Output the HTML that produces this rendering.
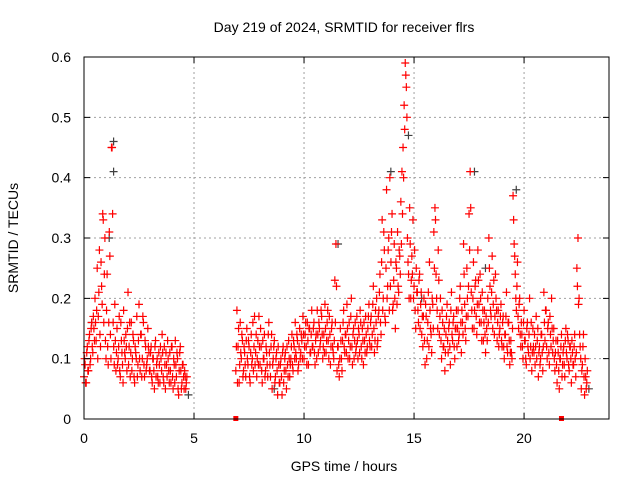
<!DOCTYPE html>
<html><head><meta charset="utf-8"><style>
body{margin:0;background:#fff;}
svg{display:block;font-family:"Liberation Sans",sans-serif;}
</style></head><body>
<svg id="chart" width="640" height="480" xmlns="http://www.w3.org/2000/svg">
<rect width="640" height="480" fill="#fff"/>
<text x="344" y="32" font-size="14" text-anchor="middle">Day 219 of 2024, SRMTID for receiver flrs</text>
<text x="344" y="471" font-size="14" text-anchor="middle">GPS time / hours</text>
<text x="18" y="238" font-size="14" text-anchor="middle" transform="rotate(-90 18 238)">SRMTID / TECUs</text>
<g id="grid"></g><g id="black"></g><g id="red"></g><g id="axes"></g>
</svg>
<script>
const xTicks=[0,5,10,15,20];
const yTicks=[0,0.1,0.2,0.3,0.4,0.5,0.6];
const yTickLabels=["0","0.1","0.2","0.3","0.4","0.5","0.6"];
const segStarts=[0,6.9,0.025,6.925];
const segStep=0.05;
const seg1=[.07,.09,.06,.12,.08,.14,.10,.16,.11,.15,
.20,.13,.25,.17,.28,.12,.22,.34,.16,.30,
.10,.24,.09,.31,.14,.45,.34,.12,.19,.08,
.15,.10,.17,.07,.13,.09,.18,.11,.14,.08,
.21,.12,.07,.16,.10,.13,.06,.11,.17,.09,
.19,.08,.14,.10,.16,.07,.12,.09,.15,.11,
.08,.12,.06,.10,.05,.13,.09,.07,.11,.06,
.10,.14,.07,.12,.05,.09,.13,.08,.11,.06,
.12,.05,.09,.13,.07,.10,.04,.11,.08,.06,
.09,.05,.07,.06];
const seg1b=[.10,.06,.11,.08,.13,.09,.15,.12,.17,.13,
.16,.18,.10,.21,.14,.26,.19,.33,.24,.13,
.18,.12,.16,.27,.10,.45,.16,.09,.13,.11,
.09,.12,.08,.16,.11,.06,.13,.10,.12,.15,
.09,.16,.11,.08,.14,.07,.12,.10,.07,.13,
.10,.14,.07,.17,.09,.13,.08,.10,.12,.08,
.11,.07,.10,.08,.12,.07,.10,.06,.09,.12,
.08,.11,.06,.09,.11,.07,.10,.06,.08,.12,
.07,.10,.06,.09,.11,.05,.08,.12,.05,.09,
.07,.08,.05,.07];
const seg2=[.08,.18,.12,.06,.16,.10,.13,.08,.11,.07,
.15,.09,.12,.06,.14,.10,.08,.17,.11,.07,
.13,.17,.09,.12,.06,.10,.14,.08,.11,.07,
.16,.09,.12,.05,.10,.13,.07,.11,.04,.09,
.06,.10,.04,.12,.08,.11,.05,.09,.13,.07,
.10,.14,.08,.12,.16,.10,.13,.09,.15,.11,
.13,.17,.10,.14,.12,.16,.09,.15,.11,.18,
.12,.16,.09,.14,.18,.11,.15,.13,.17,.10,
.14,.19,.11,.16,.13,.17,.09,.15,.12,.10,
.23,.29,.08,.12,.07,.15,.10,.13,.18,.11,
.14,.19,.10,.16,.12,.20,.09,.15,.13,.11,
.17,.10,.14,.18,.12,.15,.09,.13,.17,.11,
.15,.19,.12,.17,.14,.22,.11,.18,.20,.13,
.18,.24,.14,.33,.20,.28,.16,.38,.22,.30,
.40,.26,.34,.19,.29,.15,.25,.31,.21,.27,
.36,.41,.45,.52,.59,.55,.30,.24,.35,.20,
.27,.33,.22,.18,.25,.21,.16,.24,.19,.14,
.12,.20,.09,.17,.13,.21,.26,.15,.11,.19,
.31,.35,.24,.18,.28,.14,.20,.10,.16,.12,
.08,.14,.19,.11,.16,.09,.21,.13,.17,.10,
.15,.12,.18,.14,.22,.11,.16,.29,.19,.13,
.25,.17,.34,.41,.21,.15,.26,.18,.23,.14,
.28,.19,.24,.16,.21,.13,.18,.11,.15,.20,
.30,.22,.17,.27,.19,.14,.24,.18,.16,.12,
.15,.19,.12,.17,.10,.14,.21,.11,.16,.09,
.13,.10,.37,.29,.24,.18,.26,.15,.20,.12,
.14,.10,.18,.13,.09,.16,.11,.20,.12,.08,
.15,.11,.09,.17,.13,.07,.12,.10,.14,.08,
.21,.13,.18,.10,.16,.09,.14,.20,.11,.15,
.08,.13,.06,.11,.05,.10,.14,.09,.12,.07,
.15,.10,.13,.08,.12,.06,.11,.09,.14,.07,
.25,.30,.20,.12,.05,.09,.14,.04,.07,.06];
const seg2b=[.12,.06,.15,.09,.11,.14,.07,.12,.09,.13,
.10,.13,.07,.11,.09,.16,.12,.09,.14,.10,
.09,.12,.15,.08,.13,.10,.07,.12,.09,.14,
.11,.07,.14,.09,.12,.06,.10,.08,.12,.06,
.09,.07,.11,.06,.10,.08,.12,.07,.10,.09,
.12,.09,.13,.10,.11,.14,.08,.12,.10,.14,
.10,.14,.12,.16,.09,.13,.15,.11,.14,.12,
.15,.11,.13,.10,.14,.16,.12,.18,.14,.12,
.11,.15,.13,.18,.10,.14,.12,.16,.11,.13,
.16,.22,.12,.09,.10,.13,.08,.16,.12,.14,
.11,.15,.13,.10,.17,.12,.14,.10,.16,.12,
.13,.15,.11,.16,.10,.13,.16,.11,.14,.12,
.17,.13,.16,.12,.19,.15,.13,.16,.12,.17,
.21,.16,.26,.18,.31,.17,.25,.20,.28,.18,
.22,.31,.18,.23,.20,.26,.19,.22,.28,.24,
.29,.34,.40,.48,.57,.50,.26,.20,.29,.23,
.24,.20,.28,.15,.21,.18,.23,.15,.21,.17,
.17,.13,.19,.10,.16,.12,.18,.14,.20,.15,
.25,.33,.20,.15,.23,.17,.13,.18,.12,.15,
.11,.17,.13,.15,.12,.18,.14,.16,.12,.15,
.18,.15,.13,.20,.16,.18,.14,.24,.15,.17,
.20,.22,.28,.35,.18,.20,.15,.22,.17,.19,
.23,.16,.20,.13,.18,.16,.14,.17,.13,.16,
.25,.18,.21,.15,.23,.17,.20,.13,.18,.14,
.17,.13,.16,.12,.14,.17,.12,.16,.13,.11,
.11,.15,.33,.27,.20,.22,.17,.19,.14,.16,
.12,.16,.13,.10,.15,.12,.14,.10,.16,.11,
.12,.14,.12,.10,.15,.11,.09,.14,.11,.12,
.16,.18,.12,.15,.11,.17,.12,.15,.13,.10,
.11,.09,.13,.08,.10,.12,.07,.11,.09,.13,
.11,.14,.09,.12,.10,.13,.09,.12,.10,.11,
.22,.19,.14,.10,.08,.12,.07,.10,.05,.08];
const blackHours=[1.3,1.3,1.1,11.5,17.7,19.6,14.7,0.3,4.7,8.6,13.9,22.9,15.3,18.2];
const blackVals=[0.46,0.41,0.30,0.29,0.41,0.38,0.47,0.16,0.04,0.05,0.41,0.05,0.20,0.25];
const zeroHours=[6.9,21.7];

const L=84,R=609,T=57,B=419,XMAX=23.86,YMAX=0.6;
const sx=h=>L+h/XMAX*(R-L);
const sy=v=>B-v/YMAX*(B-T);
const NS="http://www.w3.org/2000/svg";
function mk(tag,parent){const e=document.createElementNS(NS,tag);document.getElementById(parent).appendChild(e);return e;}
function plus(g,x,y,c){const p=mk('path',g);p.setAttribute('d',`M${x-4} ${y}H${x+4}M${x} ${y-4}V${y+4}`);p.setAttribute('stroke',c);p.setAttribute('stroke-width','1.2');p.setAttribute('fill','none');return p;}

xTicks.forEach((t,i)=>{
 const x=sx(t);
 if(t>0){const l=mk('line','grid');
 l.setAttribute('x1',x);l.setAttribute('x2',x);l.setAttribute('y1',T);l.setAttribute('y2',B);l.setAttribute('stroke','#a0a0a0');l.setAttribute('stroke-dasharray','2,3');}
 const k=mk('path','axes');
 k.setAttribute('d',`M${x} ${B}v-6M${x} ${T}v6`);k.setAttribute('stroke','#000');
 const tx=mk('text','axes');
 tx.setAttribute('x',x);tx.setAttribute('y',443);tx.setAttribute('font-size','14');tx.setAttribute('text-anchor','middle');tx.textContent=String(t);
});
yTicks.forEach((t,i)=>{
 const y=sy(t);
 if(t>0&&t<YMAX){const l=mk('line','grid');
 l.setAttribute('x1',L);l.setAttribute('x2',R);l.setAttribute('y1',y);l.setAttribute('y2',y);l.setAttribute('stroke','#a0a0a0');l.setAttribute('stroke-dasharray','2,3');}
 const k=mk('path','axes');
 k.setAttribute('d',`M${L} ${y}h6M${R} ${y}h-6`);k.setAttribute('stroke','#000');
 const tx=mk('text','axes');
 tx.setAttribute('x',71);tx.setAttribute('y',y+5);tx.setAttribute('font-size','14');tx.setAttribute('text-anchor','end');tx.textContent=yTickLabels[i];
});
const fr=mk('rect','axes');
fr.setAttribute('x',L);fr.setAttribute('y',T);fr.setAttribute('width',R-L);fr.setAttribute('height',B-T);fr.setAttribute('fill','none');fr.setAttribute('stroke','#000');

blackHours.forEach((h,i)=>{const p=plus('black',sx(h)+1,sy(blackVals[i]),'#404040');
 
 });
[seg1,seg2,seg1b,seg2b].forEach((seg,s)=>{seg.forEach((v,i)=>{const p=plus('red',sx(segStarts[s]+i*segStep),sy(v),'#ff0000');
 
 });});
zeroHours.forEach(h=>{const r=mk('rect','red');
 
 
 r.setAttribute('x',sx(h)-2.5);r.setAttribute('y',B-3);r.setAttribute('width',5);r.setAttribute('height',5);r.setAttribute('fill','#ff0000');});
</script>
</body></html>
